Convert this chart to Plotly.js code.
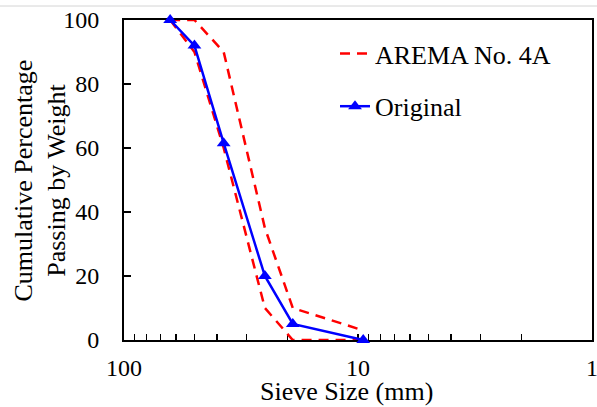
<!DOCTYPE html>
<html>
<head>
<meta charset="utf-8">
<script src="https://cdn.plot.ly/plotly-3.0.1.min.js"></script>
<style>html,body{margin:0;padding:0;background:#fff;}#chart{width:597px;height:407px;}</style>
</head>
<body>
<div id="chart"></div>
<script>
// Sieve sizes (mm)
const sieveSize = [63.5, 50, 37.5, 25, 19, 9.5];
// AREMA No. 4A gradation limits (% passing)
const aremaUpper = [100, 100, 90, 35, 10, 3];
const aremaLower = [100, 90, 60, 10, 0, 0];
// Original ballast gradation (% passing)
const original = [100, 92, 61.5, 20, 5, 0];

const xMajorTicks = [100, 10, 1];
const xMajorLabels = ['100', '10', '1'];
const yTicks = [0, 20, 40, 60, 80, 100];

// build minor tick positions (2..9 per decade) + major labels
const xTickVals = [];
const xTickText = [];
[10, 1].forEach(function (dec) {
  for (let d = 9; d >= 2; d--) { xTickVals.push(d * dec); xTickText.push(''); }
});
xMajorTicks.forEach(function (v, i) { xTickVals.push(v); xTickText.push(xMajorLabels[i]); });

const FONT = "Liberation Serif";

const traces = [
  {
    x: sieveSize, y: aremaUpper, name: 'AREMA No. 4A', mode: 'lines',
    line: {color: '#FF0000', width: 2.5, dash: '10px,7px'},
    legendgroup: 'a', cliponaxis: false
  },
  {
    x: sieveSize, y: aremaLower, name: 'AREMA No. 4A', mode: 'lines',
    line: {color: '#FF0000', width: 2.5, dash: '10px,7px'},
    legendgroup: 'a', showlegend: false, cliponaxis: false
  },
  {
    x: sieveSize, y: original, name: 'Original', mode: 'lines+markers',
    line: {color: '#0000FF', width: 2.5},
    marker: {symbol: 'triangle-up', size: 12, color: '#0000FF'},
    legendgroup: 'b', cliponaxis: false
  }
];

const layout = {
  width: 597, height: 407,
  margin: {l: 124, r: 5, t: 20, b: 67, pad: 0},
  paper_bgcolor: '#ffffff', plot_bgcolor: '#ffffff',
  font: {family: FONT, size: 24, color: '#000000'},
  showlegend: true,
  legend: {
    x: (335 - 124) / 468, xanchor: 'left',
    y: 1 - (30 - 20) / 320, yanchor: 'top',
    font: {family: FONT, size: 26, color: '#000'},
    bgcolor: 'rgba(0,0,0,0)', borderwidth: 0,
    traceorder: 'grouped', tracegroupgap: 16
  },
  xaxis: {
    type: 'log', range: [2, 0], autorange: false,
    tickmode: 'array', tickvals: xTickVals, ticktext: xTickText,
    ticks: 'inside', ticklen: 6, tickwidth: 1.5, tickcolor: '#000',
    showline: true, linecolor: '#000', linewidth: 2, mirror: true,
    showgrid: false, zeroline: false, layer: 'below traces',
    tickfont: {family: FONT, size: 24, color: '#000'},
    ticklabelstandoff: 5, ticklabeloverflow: 'allow'
  },
  yaxis: {
    range: [0, 100], autorange: false,
    tickmode: 'array', tickvals: yTicks,
    ticks: 'inside', ticklen: 7, tickwidth: 1.5, tickcolor: '#000',
    showline: true, linecolor: '#000', linewidth: 2, mirror: true,
    showgrid: false, zeroline: false, layer: 'below traces',
    tickfont: {family: FONT, size: 24, color: '#000'},
    ticklabelstandoff: 18, ticklabeloverflow: 'allow'
  },
  annotations: [
    {
      text: 'Sieve Size (mm)', xref: 'paper', yref: 'paper',
      x: (346.5 - 124) / 468, y: 1 - (391 - 20) / 320,
      xanchor: 'center', yanchor: 'middle', showarrow: false,
      font: {family: FONT, size: 26, color: '#000'}
    },
    {
      text: 'Cumulative Percentage<br>Passing by Weight', xref: 'paper', yref: 'paper',
      x: (39.5 - 124) / 468, y: 1 - (181 - 20) / 320,
      xanchor: 'center', yanchor: 'middle', showarrow: false, textangle: -90,
      font: {family: FONT, size: 26, color: '#000'}
    }
  ],
  shapes: [
    {
      type: 'line', xref: 'paper', yref: 'paper',
      x0: -124 / 468, x1: (597 - 124) / 468, y0: 1 + 14 / 320, y1: 1 + 14 / 320,
      line: {color: '#d4d4d4', width: 1}
    }
  ]
};

Plotly.newPlot('chart', traces, layout, {staticPlot: true, displayModeBar: false});
</script>
</body>
</html>
